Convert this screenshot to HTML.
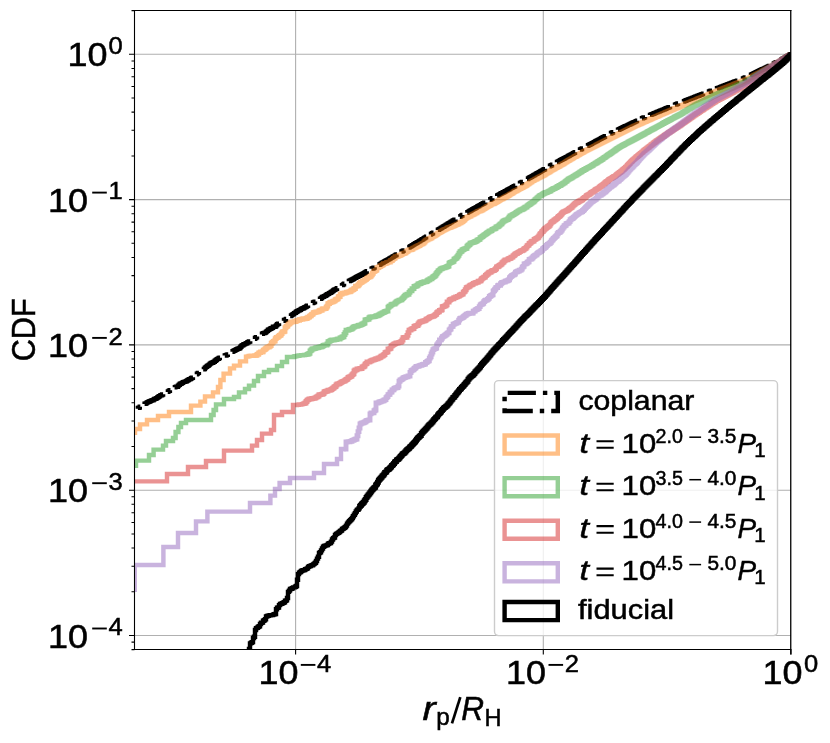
<!DOCTYPE html>
<html><head><meta charset="utf-8"><title>CDF</title>
<style>
html,body{margin:0;padding:0;background:#fff;}
body{width:830px;height:743px;overflow:hidden;position:relative;font-family:"Liberation Sans",sans-serif;}
svg{will-change:transform;}
svg text{font-family:"Liberation Sans",sans-serif;fill:#000;stroke:#000;stroke-width:0.5px;}
</style></head><body>
<svg width="830" height="743" viewBox="0 0 830 743" style="position:absolute;left:0;top:0;font-family:'Liberation Sans',sans-serif">
<defs><clipPath id="ax"><rect x="134.5" y="10.5" width="656.5" height="639.0"/></clipPath></defs>
<rect x="0" y="0" width="830" height="743" fill="#fff"/>
<path d="M295.6,10.5 V649.5 M543.3,10.5 V649.5 M134.5,635.5 H791.0 M134.5,490.2 H791.0 M134.5,344.9 H791.0 M134.5,199.6 H791.0 M134.5,54.3 H791.0" stroke="#b0b0b0" stroke-width="1.1" fill="none"/>
<g clip-path="url(#ax)" fill="none" stroke-linejoin="miter">
<path d="M134.5,410.2H135.4V409.4H136.2V408.9H137.1V408.8H137.9V407.9H138.8V407.6H139.8V406.8H140.7V405.9H141.7V405.5H142.7V404.9H143.7V404.2H144.6V403.7H145.6V403.4H146.6V402.6H147.5V402.1H148.5V401.7H149.5V401.3H150.5V400.9H151.4V400.4H152.4V400.3H153.4V399.6H154.3V398.9H155.3V398.7H156.3V398.1H157.2V397.5H158.2V396.8H159.2V396.1H160.2V395.4H161.1V395.2H162.1V394.5H163.1V394.1H164.0V393.2H165.0V392.8H166.0V392.7H167.0V391.9H167.9V391.4H168.9V390.7H169.9V390.2H170.9V389.5H171.9V388.5H172.9V387.9H173.9V387.3H174.9V387.1H175.9V386.8H176.9V386.7H177.9V385.6H178.9V384.7H179.9V383.8H180.9V383.5H181.9V382.9H182.9V382.1H183.9V381.9H184.9V381.6H185.9V381.2H186.9V380.5H187.9V380.0H188.9V379.3H189.9V379.1H190.9V378.2H191.9V377.7H192.9V376.7H193.9V375.9H194.9V374.6H195.9V374.3H196.9V373.6H197.9V372.9H198.9V371.8H199.9V371.2H200.9V370.6H201.9V369.9H202.9V369.2H203.9V369.0H204.9V367.6H205.9V366.9H206.9V366.0H207.9V365.5H208.9V364.6H209.9V363.6H210.9V363.0H211.9V362.7H212.8V362.2H213.8V361.7H214.8V360.7H215.8V360.0H216.8V359.1H217.8V358.8H218.8V358.0H219.8V357.8H220.8V357.1H221.8V356.9H222.8V356.4H223.8V356.3H224.8V355.5H225.8V355.2H226.8V354.8H227.8V354.5H228.7V354.2H229.7V352.7H230.7V352.2H231.7V351.7H232.6V351.2H233.6V350.8H234.6V350.2H235.6V349.7H236.5V349.3H237.5V348.7H238.5V348.5H239.5V348.0H240.4V346.8H241.4V345.6H242.4V345.2H243.3V344.5H244.3V344.1H245.3V343.6H246.3V343.2H247.2V342.5H248.2V342.0H249.2V341.5H250.2V341.2H251.1V340.8H252.1V340.1H253.1V339.4H254.1V338.9H255.0V338.0H256.0V337.2H257.0V336.5H258.0V336.3H259.0V335.7H260.0V335.2H261.0V334.6H262.0V333.8H263.0V333.1H264.0V333.0H265.0V332.6H266.0V331.6H267.0V330.9H268.0V329.7H269.0V329.4H270.0V328.8H271.0V328.3H272.0V327.9H273.0V326.8H274.0V326.7H275.0V326.5H276.0V325.4H277.0V324.2H278.0V323.7H279.0V323.1H280.0V322.7H281.0V321.8H282.0V321.1H283.0V320.7H284.0V320.0H285.0V319.6H286.0V319.0H287.0V318.6H288.0V317.9H289.0V317.0H290.0V316.0H291.0V315.4H292.0V314.6H293.0V314.1H294.0V313.1H295.0V312.8H296.0V311.8H297.0V311.2H298.0V310.6H299.0V310.3H300.0V309.7H301.0V308.9H302.0V308.5H303.0V308.2H304.0V307.5H305.0V307.1H306.0V306.5H307.0V305.8H308.0V305.2H309.0V304.4H310.0V304.0H311.0V303.5H312.0V303.1H313.0V302.5H314.0V302.0H315.0V301.6H316.0V301.0H317.0V300.5H318.0V299.8H319.0V299.2H320.0V298.7H321.0V298.0H322.0V297.0H323.0V296.7H324.0V296.1H325.0V295.8H326.0V295.0H327.0V294.3H328.0V293.9H329.0V293.1H330.0V292.7H331.0V292.0H332.0V291.4H333.0V290.5H334.0V289.8H335.0V289.4H336.0V288.9H337.0V288.3H338.0V287.6H339.0V287.1H340.0V286.3H341.0V285.8H342.0V285.1H343.0V284.4H344.0V283.8H345.0V283.3H346.0V282.6H346.9V282.0H347.9V281.5H348.9V281.0H349.9V280.5H350.9V280.0H351.9V279.5H352.9V279.0H353.9V278.4H354.8V277.9H355.8V277.3H356.8V276.8H357.8V276.2H358.8V275.8H359.8V275.2H360.8V274.8H361.8V274.2H362.7V273.7H363.7V273.2H364.7V272.5H365.7V271.9H366.7V271.2H367.7V270.6H368.7V270.2H369.7V269.7H370.6V269.2H371.6V268.6H372.6V268.2H373.6V267.6H374.6V267.0H375.6V266.5H376.6V265.8H377.6V265.3H378.6V264.7H379.6V264.2H380.6V263.6H381.6V263.0H382.6V262.5H383.6V261.9H384.6V261.3H385.6V260.7H386.6V260.1H387.6V259.6H388.6V259.1H389.5V258.5H390.5V257.9H391.5V257.4H392.5V256.7H393.5V256.1H394.5V255.6H395.5V255.0H396.5V254.4H397.5V253.8H398.5V253.3H399.5V252.7H400.5V252.1H401.5V251.5H402.5V250.9H403.5V250.4H404.5V249.8H405.5V249.2H406.4V248.6H407.4V248.0H408.4V247.5H409.4V246.9H410.4V246.3H411.4V245.7H412.3V245.1H413.3V244.5H414.3V243.9H415.3V243.3H416.3V242.7H417.3V242.1H418.2V241.6H419.2V241.0H420.2V240.4H421.2V239.8H422.2V239.2H423.2V238.6H424.1V238.0H425.1V237.4H426.1V236.8H427.1V236.2H428.1V235.7H429.1V235.1H430.0V234.5H431.0V233.9H432.0V233.3H433.0V232.7H434.0V232.1H434.9V231.5H435.9V230.9H436.9V230.3H437.9V229.7H438.9V229.1H439.8V228.6H440.8V228.0H441.8V227.4H442.8V226.8H443.8V226.2H444.7V225.6H445.7V225.0H446.7V224.4H447.7V223.8H448.7V223.2H449.6V222.6H450.6V222.0H451.6V221.4H452.6V220.8H453.6V220.2H454.5V219.7H455.5V219.1H456.5V218.5H457.5V217.9H458.5V217.3H459.4V216.7H460.4V216.1H461.4V215.5H462.4V214.9H463.4V214.4H464.4V213.8H465.4V213.3H466.4V212.7H467.4V212.1H468.4V211.6H469.4V211.0H470.4V210.5H471.4V209.9H472.4V209.3H473.4V208.8H474.4V208.2H475.4V207.7H476.4V207.1H477.3V206.5H478.3V206.0H479.3V205.4H480.3V204.9H481.3V204.3H482.3V203.7H483.3V203.2H484.3V202.6H485.3V202.1H486.3V201.5H487.3V200.9H488.3V200.4H489.3V199.8H490.3V199.3H491.3V198.7H492.3V198.2H493.3V197.6H494.3V197.1H495.3V196.5H496.2V196.0H497.2V195.5H498.2V194.9H499.2V194.4H500.2V193.8H501.2V193.3H502.2V192.7H503.2V192.2H504.2V191.7H505.2V191.1H506.1V190.6H507.1V190.0H508.1V189.5H509.1V189.0H510.1V188.4H511.1V187.9H512.1V187.3H513.1V186.8H514.1V186.2H515.1V185.7H516.0V185.2H517.0V184.6H518.0V184.1H519.0V183.5H520.0V183.0H521.0V182.4H522.0V181.9H523.0V181.3H524.0V180.7H525.0V180.1H526.0V179.6H527.0V179.0H528.0V178.4H529.0V177.8H530.0V177.3H531.0V176.7H532.0V176.1H533.0V175.5H534.0V175.0H535.0V174.4H536.0V173.8H537.0V173.2H538.0V172.7H539.0V172.1H540.0V171.5H541.0V170.9H542.0V170.4H543.0V169.8H544.0V169.2H545.0V168.6H546.0V168.1H547.0V167.5H548.0V166.9H549.0V166.3H550.0V165.8H551.0V165.2H552.0V164.7H553.0V164.1H554.0V163.6H555.0V163.0H556.0V162.5H557.0V162.0H558.0V161.4H559.0V160.9H560.0V160.3H561.0V159.8H562.0V159.3H563.0V158.7H564.0V158.2H565.0V157.6H566.0V157.1H567.0V156.6H568.0V156.0H569.0V155.5H570.0V154.9H571.0V154.4H572.0V153.9H573.0V153.3H574.0V152.8H575.0V152.2H576.0V151.7H577.0V151.2H578.0V150.6H579.0V150.1H580.0V149.5H581.0V149.0H582.0V148.5H583.0V147.9H584.0V147.4H585.0V146.9H586.0V146.3H587.0V145.8H588.0V145.3H589.0V144.7H590.0V144.2H591.0V143.7H592.0V143.1H593.0V142.6H594.0V142.1H595.0V141.5H596.0V141.0H597.0V140.5H598.0V139.9H599.0V139.4H600.0V138.9H601.0V138.3H602.0V137.8H603.0V137.3H604.0V136.7H605.0V136.2H606.0V135.7H607.0V135.1H608.0V134.6H609.0V134.1H610.0V133.5H611.0V133.0H612.0V132.5H613.0V132.1H614.0V131.6H615.0V131.1H616.0V130.6H617.0V130.2H618.0V129.7H619.0V129.2H620.0V128.7H621.0V128.2H622.0V127.8H623.0V127.3H624.0V126.8H625.0V126.3H626.0V125.9H627.0V125.4H628.0V124.9H629.0V124.5H630.0V124.0H631.0V123.5H632.0V123.0H633.0V122.5H634.0V122.1H635.0V121.6H636.0V121.1H637.0V120.7H638.0V120.2H639.0V119.7H640.0V119.2H641.0V118.8H642.0V118.3H643.0V117.8H644.0V117.4H645.0V117.0H646.0V116.6H647.0V116.2H648.0V115.7H649.0V115.3H650.0V114.9H651.0V114.5H652.0V114.1H653.0V113.7H654.0V113.3H655.0V112.9H656.0V112.4H657.0V112.0H658.0V111.6H659.0V111.2H660.0V110.8H661.0V110.4H662.0V110.0H663.0V109.6H664.0V109.2H665.0V108.7H666.0V108.3H667.0V107.9H668.0V107.5H669.0V107.1H670.0V106.7H671.0V106.3H672.0V105.9H673.0V105.4H674.0V105.0H675.0V104.6H676.0V104.2H677.0V103.8H678.0V103.4H679.0V103.0H680.0V102.6H681.0V102.2H682.0V101.9H683.0V101.5H684.0V101.1H685.0V100.7H686.0V100.3H687.0V99.9H688.0V99.5H689.0V99.1H690.0V98.8H691.0V98.4H692.0V98.0H693.0V97.6H694.0V97.2H695.0V96.8H696.0V96.4H697.0V96.0H698.0V95.7H699.0V95.3H700.0V94.9H701.0V94.5H702.0V94.1H703.0V93.7H704.0V93.3H705.0V92.9H706.0V92.6H707.0V92.2H708.0V91.8H709.0V91.4H710.0V91.0H711.0V90.6H712.0V90.2H713.0V89.9H714.0V89.5H715.0V89.1H716.0V88.7H717.0V88.3H718.0V87.9H719.0V87.6H720.0V87.2H721.0V86.8H722.0V86.4H723.0V86.0H724.0V85.6H725.0V85.3H726.0V84.9H727.0V84.5H728.0V84.1H729.0V83.7H730.0V83.4H731.0V83.0H732.0V82.6H733.0V82.2H734.0V81.8H735.0V81.4H736.0V81.1H737.0V80.7H738.0V80.3H739.0V79.9H740.0V79.5H741.0V79.1H742.0V78.8H743.0V78.4H744.0V78.0H745.0V77.5H746.0V77.0H747.0V76.6H748.0V76.1H749.0V75.6H750.0V75.1H751.0V74.6H752.0V74.2H753.0V73.7H754.0V73.2H755.0V72.7H756.0V72.2H757.0V71.8H758.0V71.3H759.0V70.8H760.0V70.3H761.0V69.8H762.0V69.3H763.0V68.9H764.0V68.4H765.0V67.9H766.0V67.4H767.0V66.9H768.0V66.5H769.0V66.0H770.0V65.5H771.0V65.0H772.0V64.4H772.9V63.9H773.9V63.4H774.9V62.9H775.9V62.3H776.8V61.8H777.8V61.3H778.8V60.7H779.8V60.2H780.7V59.7H781.7V59.2H782.7V58.6H783.7V58.1H784.6V57.6H785.6V57.0H786.6V56.5H787.6V56.0H788.5V55.5H789.5V54.9H790.5V54.4" stroke="#000" stroke-width="4.44" stroke-dasharray="28.28 7.02 4.41 7.02" stroke-dashoffset="30.5"/>
<g opacity="0.5" stroke="#ff7f0e"><path d="M135.0,435.0V429.0H140.0V424.4H147.0V420.0H158.0V416.0H169.0V412.0H191.0V405.6H200.4V401.6H205.0V396.4H213.0V392.4H218.0V387.0H220.4V380.0H223.6V373.6H230.0V368.4H234.0V365.6H240.0V361.4H246.0V356.6H246.9V356.6H247.8V356.4H248.8V356.0H249.7V355.9H250.6V355.8H251.5H252.4V355.7H253.3H254.3V355.5H255.2V355.5H256.1V355.4" stroke-width="4.44"/><path d="M256.1,355.4H257.0V354.4H257.8V354.3H258.7V352.9H259.6V352.6H260.5V352.0H261.3H262.2V351.8H263.2V350.1H264.2V349.6H265.2V348.7H266.2V347.9H267.2V347.1H268.2V347.0H269.2V346.4H270.2V345.6H271.2V343.3H272.2V342.4H273.2V341.4H274.2V341.0H275.2V338.6H276.2V337.5H277.2V337.4H278.2V336.4H279.2V335.5H280.2V335.0H281.2V333.6H282.1V331.9H283.1V331.8H284.0V331.4H285.0V327.7H286.0V326.5H287.0V326.0H287.9V324.4H288.9V323.7H289.9V322.9H290.9V322.1H291.8V321.9H292.8H293.8V321.6H294.7V321.5H295.7V321.1H296.7V320.5H297.6V320.4H298.6V320.3H299.5V319.5H300.5V319.4H301.4V319.3H302.4V319.0H303.3V318.7H304.3V318.7H305.2V318.6H306.0V318.5H306.9V318.0H307.8V317.3H308.7V317.1H309.5V316.1H310.4V315.7H311.3V314.6H312.2V314.1H313.2V312.8H314.1V312.5H315.1V312.3H316.1V312.0H317.1V311.9H318.1V311.6H319.1V310.8H320.1V310.3H321.1V310.2H322.1V309.0H323.1V308.7H324.1V308.6H325.1V308.6H326.1V307.2H327.0V306.1H327.8V303.7H328.7V303.5H329.6V302.6H330.5V302.3H331.3V302.1H332.2V301.8H333.2V301.2H334.2V300.9H335.2V299.8H336.2V299.2H337.2V298.9H338.2V296.7H339.2V296.5H340.2V294.2H341.2V294.0H342.2V293.3H343.2V293.2H344.2V293.0H345.2V292.9H346.2V292.3H347.2V292.1H348.2V291.9H349.2V291.7H350.2V291.2H351.1V290.2H351.9V290.0H352.8V289.6H353.7V288.7H354.6V288.5H355.4V286.3H356.3V286.1H357.3V285.8H358.3V284.7H359.3V283.3H360.3V282.5H361.3V282.1H362.3V281.3H363.3V280.9H364.3V280.1H365.3V279.6H366.3V278.5H367.3V277.6H368.3V277.1H369.3V276.8H370.3V276.0H371.3V274.9H372.3V273.3H373.3V271.6H374.3V271.1H375.2V270.5H376.0V270.1H376.9V267.8H377.8V267.5H378.7V266.9H379.5V266.6H380.4V265.7H381.4V265.4H382.4V264.7H383.4V263.7H384.4V263.6H385.4V263.4H386.4V262.8H387.4V262.4H388.4V262.1H389.3V262.0H390.3V260.8H391.3V260.5H392.3V259.4H393.3V258.5H394.2V258.0H395.2V256.8H396.2V256.6H397.2V256.4H398.2V255.7H399.1V255.5H400.1V255.1H401.1V254.6H402.1V253.9H403.1V253.5H404.0V253.2H405.0V252.9H406.0V251.7H407.0V251.2H408.0V250.3H409.0V249.9H410.0V249.7H411.0V249.5H412.0V249.0H413.0V248.1H414.0V247.9H415.0V247.3H416.0V246.8H417.0V246.3H418.0V245.8H419.0V245.5H420.0V244.6H421.0V244.1H422.0V243.7H423.0V243.1H424.0V242.0H425.0V240.9H426.0V240.1H427.0V239.8H428.0V239.1H429.0V238.7H430.0V238.3H431.0V237.8H432.0V236.7H433.0V236.3H434.0V235.7H435.0V235.2H436.0V234.6H437.0V233.8H438.0V233.0H439.0V232.6H440.0V232.0H441.0V231.5H442.0V230.7H443.0V230.2H444.0V229.8H445.0V229.4H446.0V228.9H447.0V228.3H448.0V227.7H449.0V227.5H450.0V227.3H451.0V226.8H452.0V226.4H453.0V226.1H454.0V225.5H455.0V225.1H456.0V224.6H457.0V224.3H458.0V223.9H459.0V223.0H460.0V222.8H461.0V222.1H462.0V221.6H463.0V220.6H464.0V219.9H465.0V218.6H466.0V217.9H467.0V217.2H468.0V216.9H469.0V216.4H470.0V216.0H471.0V215.1H472.0V214.8H473.0V214.2H474.0V213.8H475.0V213.1H476.0V212.7H477.0V211.9H478.0V211.4H479.0V211.1H480.0V210.8H481.0V210.3H482.0V209.9H483.0V209.1H484.0V208.5H485.0V207.9H486.0V207.3H487.0V206.5H488.0V206.1H489.0V205.5H490.0V205.0H491.0V204.3H492.0V203.9H493.0V203.7H494.0V203.4H495.0V202.5H496.0V202.1H497.0V201.5H498.0V200.8H499.0V200.2H500.0V199.6H501.0V199.0H502.0V198.7H503.0V198.1H504.0V197.5H505.0V197.0H506.0V196.5H507.0V196.0H508.0V195.5H509.0V194.8H510.0V194.1H511.0V193.6H512.0V193.1H513.0V192.3H514.0V191.5H515.0V191.0H516.0V190.7H517.0V190.1H518.0V189.5H519.0V188.9H520.0V188.6H521.0V187.9H522.0V187.5H523.0V186.7H524.0V186.2H525.0V185.7H526.0V185.2H527.0V184.4H528.0V183.8H529.0V183.1H530.0V182.3H531.0V181.7H532.0V180.9H533.0V180.5H534.0V179.9H535.0V179.3H536.0V179.0H537.0V178.3H538.0V177.8H539.0V177.3H540.0V176.7H541.0V176.2H542.0V175.7H543.0V175.3H544.0V174.7H545.0V174.0H546.0V173.4H547.0V172.7H548.0V172.2H549.0V171.7H550.0V171.0H551.0V170.4H552.0V169.7H553.0V169.2H554.0V168.7H555.0V168.1H556.0V167.6H557.0V167.0H558.0V166.5H559.0V166.0H560.0V165.3H561.0V164.8H562.0V164.2H563.0V163.7H564.0V163.1H565.0V162.4H566.0V161.8H567.0V161.1H568.0V160.5H569.0V160.0H570.0V159.4H571.0V158.8H572.0V158.2H573.0V157.6H574.0V156.9H575.0V156.5H576.0V156.0H577.0V155.3H578.0V154.8H579.0V154.2H580.0V153.6H581.0V153.0H582.0V152.5H583.0V152.0H584.0V151.4H585.0V150.9H586.0V150.4H587.0V149.9H588.0V149.4H589.0V148.9H590.0V148.4H591.0V147.9H592.0V147.4H593.0V146.9H594.0V146.4H595.0V145.9H596.0V145.3H597.0V144.8H598.0V144.3H599.0V143.8H600.0V143.3H601.0V142.8H602.0V142.3H603.0V141.8H604.0V141.3H605.0V140.8H606.0V140.3H607.0V139.8H608.0V139.3H609.0V138.8H610.0V138.3H611.0V137.8H612.0V137.3H613.0V136.8H614.0V136.3H615.0V135.8H616.0V135.3H617.0V134.8H618.0V134.3H619.0V133.8H620.0V133.2H621.0V132.7H622.0V132.2H623.0V131.7H624.0V131.2H625.0V130.7H626.0V130.2H627.0V129.7H628.0V129.2H629.0V128.7H630.0V128.2H631.0V127.7H632.0V127.2H633.0V126.8H634.0V126.3H635.0V125.9H636.0V125.4H637.0V125.0H638.0V124.5H639.0V124.1H640.0V123.7H641.0V123.2H642.0V122.8H643.0V122.3H644.0V121.9H645.0V121.5H646.0V121.0H647.0V120.6H648.0V120.1H649.0V119.7H650.0V119.2H651.0V118.8H652.0V118.4H653.0V117.9H654.0V117.5H655.0V117.0H656.0V116.6H657.0V116.2H658.0V115.7H659.0V115.3H660.0V114.9H661.0V114.4H662.0V114.0H663.0V113.6H664.0V113.1H665.0V112.7H666.0V112.3H667.0V111.9H668.0V111.4H669.0V111.0H670.0V110.6H671.0V110.1H672.0V109.7H673.0V109.3H674.0V108.8H675.0V108.4H676.0V108.0H677.0V107.6H678.0V107.2H679.0V106.7H680.0V106.3H681.0V105.9H682.0V105.5H683.0V105.1H684.0V104.7H685.0V104.2H686.0V103.8H687.0V103.4H688.0V103.0H689.0V102.6H690.0V102.2H691.0V101.7H692.0V101.3H693.0V100.9H694.0V100.5H695.0V100.1H696.0V99.7H697.0V99.3H698.0V98.8H699.0V98.4H700.0V98.0H701.0V97.6H702.0V97.2H703.0V96.8H704.0V96.4H705.0V96.0H706.0V95.5H707.0V95.1H708.0V94.7H709.0V94.3H710.0V93.9H711.0V93.5H712.0V93.1H713.0V92.6H714.0V92.2H715.0V91.8H716.0V91.4H717.0V91.0H718.0V90.6H719.0V90.2H720.0V89.8H721.0V89.4H722.0V89.0H723.0V88.6H724.0V88.3H725.0V87.9H726.0V87.5H727.0V87.1H728.0V86.7H729.0V86.3H730.0V85.9H731.0V85.5H732.0V85.1H733.0V84.7H734.0V84.3H735.0V83.9H736.0V83.5H737.0V83.1H738.0V82.7H739.0V82.4H740.0V82.0H741.0V81.6H742.0V81.2H743.0V80.8H744.0V80.4H745.0V80.0H746.0V79.6H747.0V79.1H748.0V78.6H749.0V78.1H750.0V77.6H751.0V77.1H752.0V76.5H753.0V76.0H754.0V75.5H755.0V75.0H756.0V74.5H757.0V74.0H758.0V73.5H759.0V72.9H760.0V72.4H761.0V71.9H762.0V71.3H763.0V70.8H764.0V70.3H765.0V69.7H766.0V69.2H767.0V68.7H768.0V68.1H769.0V67.6H770.0V67.0H771.0V66.4H772.0V65.8H773.0V65.2H774.0V64.6H775.0V64.0H776.0V63.4H777.0V62.8H778.0V62.2H779.0V61.6H780.0V61.0H781.0V60.4H782.0V59.8H783.0V59.2H783.9V58.6H784.9V58.0H785.8V57.4H786.8V56.8H787.7V56.2H788.6V55.6H789.6V55.0H790.5V54.4" stroke-width="4.9" stroke-linecap="square"/></g>
<g opacity="0.5" stroke="#2ca02c"><path d="M136.0,468.0V460.6H149.0V455.0H153.6V449.6H163.0V445.6H166.0V441.0H173.0V438.0H175.6V432.0H178.4V427.0H181.0V423.0H186.0V420.0H211.0V415.0H213.6V410.0H216.0V404.4H224.0V399.0H234.0V397.0H239.0V392.4H245.0V389.0H249.0V385.6H254.0V381.0H258.0V376.0H264.0V372.0H269.0V370.0H277.0V366.0H282.0V362.0H287.0V357.0H293.0H294.0V356.5H295.0V356.3H296.0V356.1H297.0V355.9H298.0V355.8H299.0V355.5H300.0V355.4H301.0V355.3H302.0V355.2H303.0V355.1H304.0V355.0H305.0V354.9H306.0V354.6H307.0V354.3H308.0V354.0" stroke-width="4.44"/><path d="M308.0,354.0H309.0V353.4H310.0V350.9H311.0V350.0H312.0V349.0H313.0V348.8H314.0V348.6H315.0V348.3H316.0V347.8H317.0V347.7H318.0V347.5H319.0V347.1H320.0V347.0H321.0V346.7H322.0V346.4H323.0V345.5H324.0V345.1H325.0V345.0H326.0V345.0H327.0V344.0H328.0V341.6H329.0V341.4H330.0V340.6H331.0V340.2H332.0V340.0H333.0H334.0V339.9H335.0V339.6H336.0H337.0V339.1H338.0V339.0H339.0H340.0V338.0H341.0V337.6H342.0V337.0H343.0V336.7H344.0V334.5H345.0V332.7H346.0V330.3H347.0V330.3H348.0V330.0H349.0V329.5H350.0V329.3H351.0V329.1H352.0V328.3H353.0V327.2H354.0V326.7H355.0V326.4H356.0V326.3H357.0V326.1H358.0V325.5H359.0V325.2H360.0V325.1H361.0V324.6H362.0V324.0H363.0V323.6H364.0V323.0H365.0V319.9H366.0V319.8H367.0V319.4H368.0V319.3H369.0V317.7H370.0V317.0H371.0H372.0V316.8H373.0H374.0V316.6H375.0V316.4H376.0V315.7H377.0H378.0V315.2H379.0V314.7H380.0V314.0H381.0V313.6H382.0V312.9H383.0V312.6H384.0V312.0H385.0V311.5H386.0V311.1H387.0V311.0H388.0V307.2H389.0V306.2H390.0V305.9H391.0V304.7H392.0V304.2H393.0V304.1H394.0V304.0H395.0V303.0H396.0V302.0H397.0V301.3H398.0V300.9H399.0V300.3H400.0V300.1H401.0V299.7H402.0V298.6H403.0V297.6H404.0V296.4H405.0V295.2H406.0V295.0H407.0V294.3H408.0H409.0V292.4H410.0V290.9H411.0V290.8H412.0V288.8H413.0V288.6H414.0V286.5H415.0V286.2H416.0V286.0H417.0V285.2H418.0V284.0H419.0V283.8H420.0V283.5H421.0V282.8H422.0V282.5H423.0V282.2H424.0V281.8H425.0V281.7H426.0V281.6H427.0V280.7H428.0V280.0H429.0V279.7H430.0V278.8H431.0V278.7H432.0V277.6H433.0V276.8H434.0V276.2H435.0V275.3H436.0V273.8H437.0V272.4H438.0V271.0H439.0V270.4H440.0V269.1H441.0V268.8H442.0V268.3H443.0V267.9H444.0V267.8H445.0V267.4H446.0V267.0H447.0V266.5H448.0V266.0H449.0V263.2H450.0V262.5H451.0V262.2H452.0V261.8H453.0V261.2H454.0V259.3H455.0V258.6H456.0V258.0H457.0V256.8H458.0V255.3H459.0V253.2H460.0V251.7H461.0V251.2H462.0V250.0H463.0V249.5H464.0V248.9H465.0V248.6H466.0V248.2H467.0V246.3H468.0V245.2H469.0V244.6H470.0V243.3H471.0V242.9H472.0V242.6H473.0V242.4H474.0V242.0H475.0V241.5H476.0V241.1H477.0V240.2H478.0V239.6H479.0V239.4H480.0V237.8H481.0V237.1H482.0V236.5H483.0V235.6H484.0V234.9H485.0V234.4H486.0V233.5H487.0V232.8H488.0V232.1H489.0V231.3H490.0V231.0H491.0V230.6H492.0V229.4H493.0V229.1H494.0V228.7H495.0V228.2H496.0V227.0H497.0V226.7H498.0V226.2H499.0V225.2H500.0V224.3H501.0V223.8H502.0V222.3H503.0V221.2H504.0V220.7H505.0V220.3H506.0V219.9H507.0V219.6H508.0V218.8H509.0V217.2H510.0V216.0H511.0V215.7H512.0V215.0H513.0V214.5H514.0V213.9H515.0V213.4H516.0V212.5H517.0V211.9H518.0V211.1H519.0V210.7H520.0V209.9H521.0V209.7H522.0V209.3H523.0V208.7H524.0V208.0H525.0V207.2H526.0V207.0H527.0V205.9H528.0V205.1H529.0V204.5H530.0V203.7H531.0V203.1H532.0V202.4H533.0V201.9H534.0V200.9H535.0V199.6H536.0V198.9H537.0V198.0H538.0V197.1H539.0V196.1H540.0V195.5H541.0V195.1H542.0V194.4H543.0V193.8H544.0V193.3H545.0V192.8H546.0V192.5H547.0V192.1H548.0V191.6H549.0V191.2H550.0V190.7H551.0V189.9H552.0V189.5H552.9V188.8H553.9V188.5H554.8V188.1H555.7V187.6H556.7V187.0H557.6V186.5H558.5V185.9H559.4V185.5H560.4V185.0H561.3V184.4H562.2V183.8H563.2V183.1H564.1V182.7H565.1V181.6H566.1V181.0H567.1V180.1H568.1V179.3H569.1V178.7H570.1V178.3H571.1V177.8H572.1V177.1H573.1V176.4H574.1V175.9H575.1V175.2H576.1V174.7H577.0V174.1H578.0V173.5H578.9V172.9H579.8V172.3H580.8V171.7H581.7V171.0H582.6V170.5H583.5V170.0H584.5V169.5H585.4V169.0H586.3V168.4H587.3V167.9H588.2V167.5H589.2V166.9H590.2V166.4H591.2V165.8H592.2V165.2H593.2V164.4H594.2V163.9H595.2V163.3H596.2V162.7H597.2V162.0H598.2V161.4H599.2V160.8H600.2V160.2H601.2V159.5H602.2V159.0H603.1V158.1H604.1V157.5H605.1V156.9H606.1V156.1H607.1V155.4H608.0V154.8H609.0V154.2H610.0V153.5H611.0V152.8H612.0V152.1H613.0V151.4H614.0V150.7H615.0V150.0H616.0V149.3H617.0V148.5H618.0V147.9H619.0V147.2H620.0V146.6H621.0V146.1H622.0V145.5H623.0V145.0H624.0V144.5H625.0V143.9H626.0V143.4H627.0V142.9H628.0V142.3H629.0V141.8H630.0V141.3H631.0V140.7H632.0V140.2H632.9V139.7H633.9V139.2H634.8V138.7H635.7V138.2H636.7V137.7H637.6V137.2H638.5V136.7H639.4V136.2H640.4V135.7H641.3V135.2H642.2V134.7H643.2V134.2H644.1V133.7H645.1V133.1H646.1V132.6H647.1V132.0H648.1V131.5H649.1V130.9H650.1V130.4H651.1V129.8H652.1V129.3H653.1V128.8H654.1V128.2H655.1V127.6H656.1V127.1H657.0V126.6H658.0V126.1H658.9V125.6H659.8V125.1H660.8V124.6H661.7V124.1H662.6V123.5H663.5V123.0H664.5V122.5H665.4V122.0H666.3V121.5H667.3V121.0H668.2V120.5H669.2V120.0H670.2V119.5H671.2V118.9H672.2V118.4H673.2V117.9H674.2V117.3H675.2V116.8H676.2V116.3H677.2V115.8H678.2V115.2H679.2V114.7H680.2V114.2H681.2V113.6H682.2V113.0H683.1V112.4H684.1V111.8H685.1V111.2H686.1V110.6H687.0V110.0H688.0V109.4H689.0V108.8H690.0V108.2H691.0V107.6H691.9V107.0H692.9V106.4H693.9V105.8H694.8V105.3H695.8V104.8H696.7V104.3H697.7V103.8H698.6V103.3H699.6V102.9H700.5V102.4H701.5V101.9H702.4V101.4H703.4V100.9H704.3V100.4H705.2V99.9H706.2V99.5H707.1V99.0H708.1V98.5H709.0V98.0H710.0V97.6H710.9V97.1H711.8V96.6H712.8V96.1H713.7V95.7H714.7V95.2H715.6V94.7H716.6V94.3H717.5V93.9H718.5V93.5H719.4V93.1H720.4V92.7H721.4V92.3H722.3V91.9H723.3V91.4H724.2V91.0H725.2V90.6H726.2V90.2H727.1V89.8H728.1V89.4H729.0V89.0H730.0V88.6H731.0V88.2H732.0V87.7H733.0V87.3H734.0V86.8H735.0V86.4H736.0V85.9H737.0V85.5H738.0V85.0H739.0V84.6H740.0V84.2H741.0V83.7H742.0V83.3H743.0V82.8H744.0V82.4H745.0V81.9H746.0V81.5H747.0V80.9H748.0V80.4H749.0V79.8H750.0V79.2H751.0V78.6H752.0V78.1H753.0V77.5H754.0V76.9H755.0V76.3H756.0V75.8H757.0V75.2H758.0V74.6H759.0V74.1H760.0V73.5H761.0V72.9H762.0V72.4H763.0V71.8H764.0V71.2H765.0V70.7H766.0V70.1H767.0V69.5H768.0V69.0H769.0V68.4H770.0V67.8H771.0V67.1H772.0V66.5H773.0V65.8H774.0V65.2H775.0V64.5H776.0V63.9H777.0V63.2H778.0V62.5H779.0V61.9H780.0V61.2H781.0V60.6H782.0V59.9H783.0V59.3H783.9V58.7H784.9V58.1H785.8V57.5H786.8V56.8H787.7V56.2H788.6V55.6H789.6V55.0H790.5V54.4" stroke-width="4.9" stroke-linecap="square"/></g>
<g opacity="0.5" stroke="#d62728"><path d="M135.0,481.4H167.0V474.0H188.0V467.0H206.0V461.0H224.0V450.6H252.0V445.6H257.0V440.0H262.0V433.6H271.0V430.0H274.0V415.0H282.0V412.0H293.0V405.0H296.0H297.0V404.9H298.0V404.8H299.0V404.5H300.0H301.0V404.4H302.0V404.1H303.0V403.7H304.0V403.5H305.0V403.0" stroke-width="4.44"/><path d="M305.0,403.0H306.0V401.5H307.0V400.1H308.0V399.6H309.0V399.0H310.0H311.0V398.7H312.0V398.5H313.0V398.4H314.0V398.2H315.0V397.9H316.0V397.1H317.0V396.8H318.0V396.0H319.0V394.7H320.0V394.6H321.0V394.4H322.0V394.3H323.0V393.6H324.0V392.0H325.0V391.5H326.0V391.2H327.0V391.0H328.0V390.3H329.0V390.2H330.0V390.0H331.0V389.5H332.0V388.6H333.0V388.0H334.0V387.0H335.0V386.5H336.0V385.0H337.0V384.0H338.0H339.0V383.5H340.0V382.9H341.0V382.2H342.0V381.6H343.0V381.4H344.0V381.0H345.0V380.3H346.0V379.5H347.0V379.0H348.0V377.5H349.0V377.0H350.0V376.6H351.0V376.0H352.0V374.6H353.0V373.7H354.0V371.0H355.0V370.0H356.0V369.9H357.0V369.0H358.0V368.9H359.0V368.7H360.0V368.5H361.0H362.0V367.0H363.0V366.7H364.0V366.0H365.0V364.1H366.0V363.5H367.0V362.0H368.0H369.0V361.9H370.0V361.1H371.0V360.8H372.0V360.1H373.0V360.0H374.0V359.6H375.0V359.3H376.0V358.8H377.0V358.7H378.0V358.0H379.0V357.9H380.0V357.3H381.0V356.2H382.0V356.0H383.0V355.3H384.0V354.5H385.0V352.6H386.0V352.2H387.0V351.9H388.0V349.0H389.0V348.9H390.0V348.4H391.0V346.0H392.0V345.4H393.0V344.6H394.0V344.0H395.0V343.6H396.0V343.0H397.0V343.0H398.0V342.6H399.0V342.4H400.0V342.3H401.0V341.5H402.0V340.0H403.0V337.6H404.0V337.5H405.0V337.4H406.0V337.2H407.0V335.4H408.0V332.6H409.0V330.1H410.0V330.0H411.0V329.1H412.0V328.8H413.0V328.5H414.0V326.5H415.0V326.0H416.0V325.6H417.0V325.5H418.0V324.0H419.0V322.6H420.0V321.8H421.0V321.7H422.0V321.2H423.0V321.0H424.0V320.8H425.0V320.4H426.0V319.2H427.0V318.9H428.0V318.4H429.0V317.5H430.0V316.9H431.0V316.7H432.0V316.4H432.9V316.2H433.9V315.6H434.8V314.9H435.7V314.2H436.7V312.6H437.6V312.0H438.5V311.7H439.4V310.4H440.4V310.2H441.3V309.9H442.2V306.8H443.2V306.5H444.1V306.1H445.1V305.8H446.1V304.8H447.1V302.0H448.1H449.1V300.2H450.1V299.5H451.0V299.1H452.0V298.9H452.9V298.8H453.8V297.8H454.8V297.6H455.7V297.0H456.6V296.9H457.5V296.4H458.5V296.1H459.4V295.3H460.3V294.8H461.3V294.2H462.2V294.1H463.2V292.1H464.2V291.4H465.2V289.7H466.2V287.8H467.2V287.1H468.2V286.9H469.2V286.0H470.2V285.1H471.2V284.9H472.2V284.4H473.2V283.4H474.2V283.2H475.2V282.7H476.2V282.4H477.2V282.3H478.2V281.3H479.2V281.1H480.2V280.8H481.1V279.2H481.9V278.4H482.8V277.9H483.7V277.3H484.6V277.0H485.4V275.5H486.3V274.8H487.2V274.0H488.2V273.0H489.1V272.3H490.0H491.0V271.4H491.9V270.8H492.8V270.5H493.8V270.4H494.7V269.6H495.6V268.7H496.5V266.9H497.4V266.7H498.2V266.3H499.1V265.4H500.0V264.9H501.0V264.1H502.0V262.8H503.0V262.0H504.0V260.9H505.0V260.0H506.0V259.9H507.0V259.7H508.0V258.9H509.0V258.5H510.0V258.2H511.0V257.3H512.0V257.1H512.9V255.9H513.9V255.3H514.8V254.3H515.7V253.6H516.7V253.2H517.6V252.6H518.5V252.3H519.4V251.6H520.4V250.9H521.3V250.8H522.2V250.4H523.2V249.7H524.1V248.7H525.1V248.4H526.1V247.1H527.1V245.6H528.1V245.1H529.1V243.5H530.1V242.9H531.1V241.7H532.1V241.3H533.1V241.1H534.1V239.5H535.1V239.0H536.1V238.4H537.0V238.0H537.9V237.3H538.8V235.9H539.8V234.2H540.7V233.4H541.6V231.9H542.5V231.3H543.4V230.0H544.4V229.0H545.3V228.3H546.3V227.6H547.2V226.7H548.2V226.2H549.1V225.4H550.1V223.9H551.0V222.4H552.0V221.8H552.9V221.3H553.9V220.2H554.8V219.7H555.7V219.0H556.7V218.4H557.6V217.2H558.5V216.5H559.4V215.8H560.4V214.9H561.3V213.7H562.2V212.6H563.2V211.9H564.1V211.6H565.1V211.1H566.1V210.8H567.1V210.3H568.1V209.5H569.1V208.5H570.1V207.9H571.1V207.2H572.1V206.1H573.1V205.1H574.1V204.3H575.1V203.4H576.1V202.8H577.0V202.5H578.0V201.8H578.9V201.2H579.8V200.8H580.8V200.3H581.7V199.9H582.6V198.9H583.5V198.1H584.5V197.5H585.4V196.9H586.3V195.8H587.3V195.1H588.2V194.7H589.2V194.1H590.2V193.2H591.2V192.4H592.2V192.0H593.2V191.4H594.2V190.8H595.2V189.8H596.2V189.3H597.2V188.6H598.2V188.1H599.2V187.2H600.2V186.5H601.1V185.8H602.1V185.1H603.0V184.4H603.9V183.8H604.9V182.7H605.8V182.0H606.7V181.5H607.6V180.7H608.6V179.8H609.5V179.1H610.4V178.6H611.4V178.1H612.3V177.5H613.3V176.8H614.3V176.4H615.3V175.6H616.3V174.6H617.3V174.0H618.3V173.2H619.3V172.5H620.3V171.8H621.3V171.0H622.3V170.0H623.3V169.3H624.3V168.4H625.3V167.4H626.2V166.6H627.2V165.5H628.1V164.5H629.1V163.5H630.1V162.4H631.0V161.5H632.0V160.5H632.9V159.6H633.9V158.9H634.8V158.1H635.7V157.3H636.7V156.5H637.6V155.8H638.5V155.0H639.4V154.2H640.4V153.4H641.3V152.6H642.2V151.9H643.2V150.9H644.1V150.2H645.1V149.4H646.1V148.7H647.1V147.9H648.1V147.2H649.1V146.4H650.1V145.6H651.1V144.8H652.1V144.1H653.1V143.3H654.1V142.5H655.1V141.8H656.1V141.0H657.0V140.4H658.0V139.7H658.9V139.1H659.8V138.5H660.8V137.8H661.7V137.2H662.6V136.6H663.5V136.0H664.5V135.3H665.4V134.7H666.3V134.1H667.3V133.4H668.2V132.8H669.2V132.2H670.2V131.5H671.2V130.9H672.2V130.2H673.2V129.6H674.2V128.9H675.2V128.2H676.2V127.6H677.2V127.0H678.2V126.3H679.2V125.7H680.2V125.0H681.2V124.3H682.2V123.6H683.1V122.9H684.1V122.3H685.1V121.6H686.1V120.9H687.0V120.2H688.0V119.5H689.0V118.8H690.0V118.1H691.0V117.5H691.9V116.8H692.9V116.1H693.9V115.4H694.8V114.8H695.8V114.1H696.7V113.5H697.7V112.9H698.6V112.2H699.6V111.6H700.5V110.9H701.5V110.3H702.4V109.7H703.4V109.0H704.3V108.4H705.2V107.8H706.2V107.2H707.1V106.6H708.1V106.0H709.0V105.4H710.0V104.8H710.9V104.1H711.8V103.5H712.8V102.9H713.7V102.3H714.7V101.7H715.6V101.1H716.6V100.6H717.5V100.1H718.5V99.6H719.4V99.1H720.4V98.6H721.4V98.1H722.3V97.6H723.3V97.1H724.2V96.6H725.2V96.1H726.2V95.6H727.1V95.1H728.1V94.6H729.0V94.1H730.0V93.6H731.0V93.1H732.0V92.5H733.0V92.0H734.0V91.4H735.0V90.9H736.0V90.4H737.0V89.8H738.0V89.3H739.0V88.8H740.0V88.2H741.0V87.7H742.0V87.2H743.0V86.6H744.0V86.1H745.0V85.5H746.0V85.0H747.0V84.3H748.0V83.5H749.0V82.8H750.0V82.1H751.0V81.4H752.0V80.6H753.0V79.9H754.0V79.2H755.0V78.5H756.0V77.7H757.0V77.0H758.0V76.3H759.0V75.7H760.0V75.0H761.0V74.3H762.0V73.6H763.0V73.0H764.0V72.3H765.0V71.6H766.0V70.9H767.0V70.2H768.0V69.6H769.0V68.9H770.0V68.2H771.0V67.5H772.0V66.8H773.0V66.2H774.0V65.5H775.0V64.8H776.0V64.1H777.0V63.4H778.0V62.7H779.0V62.0H780.0V61.4H781.0V60.7H782.0V60.0H783.0V59.3H783.9V58.7H784.9V58.1H785.8V57.5H786.8V56.8H787.7V56.2H788.6V55.6H789.6V55.0H790.5V54.4" stroke-width="4.9" stroke-linecap="square"/></g>
<g opacity="0.5" stroke="#9467bd"><path d="M134.8,592.0V565.0H163.4V547.0H178.0V533.0H196.0V521.4H207.4V511.6H250.0V503.0H270.4V495.6H275.0V489.0H279.6V483.0H290.0V478.0H314.0V473.0H324.0V464.0H337.0V459.0H341.0V449.0H346.0" stroke-width="4.44"/><path d="M346.0,449.0V442.0H347.0V441.9H348.0V441.7H349.0H350.0V441.4H351.0V441.3H352.0V440.4H353.0V440.2H354.0V439.6H355.0V439.3H356.0V439.0H357.0V435.8H358.0V431.6H359.0V428.0H360.0V424.0H361.0V423.2H362.0V423.0H363.0V422.7H364.0V422.2H365.0V421.7H366.0V420.8H367.0V420.4H368.0V420.1H369.0V420.0H370.0V413.9H371.0V413.0H372.0V412.9H373.0H374.0V410.8H375.0V410.0H376.0V403.0H377.0H378.0V402.6H379.0V402.0H380.0V401.7H381.0V401.4H382.0V401.1H383.0V400.8H384.0V400.0H385.0V399.6H386.0V397.6H387.0V396.6H388.0V394.6H389.0V394.3H390.0V392.3H391.0V392.0H392.0V390.0H393.0V389.8H394.0V388.4H395.0V387.9H396.0V387.8H397.0V387.5H398.0V386.0H399.0V381.2H400.0V380.0H401.0V379.6H402.0V378.9H403.0V378.0H404.0V377.5H405.0V377.2H406.0V376.8H407.0V376.8H408.0V376.0H409.0H410.0V372.5H411.0V370.7H412.0V370.1H413.0V369.8H414.0V368.5H415.0V367.7H416.0V366.5H416.9V366.4H417.9V366.3H418.8V365.9H419.8V365.4H420.7V365.2H421.7V364.9H422.6V364.5H423.6V364.3H424.5V364.1H425.5V362.5H426.4V362.0H427.4V361.2H428.3V360.7H429.3V358.1H430.2V356.8H431.1V354.0H432.0V352.0H432.9V349.6H433.9V348.9H434.8V348.6H435.8V348.1H436.7V344.9H437.7V343.6H438.6V342.4H439.5V340.0H440.4V339.9H441.4V338.2H442.3V336.8H443.2V336.4H444.1V335.7H445.1V335.0H446.1V334.2H447.1V333.1H448.1V332.7H449.1V329.9H450.1V329.0H451.1V326.6H452.1V326.4H453.1V324.2H454.1V323.9H455.1V323.4H456.1V323.0H457.0V322.4H457.8V322.2H458.7V320.1H459.6V318.8H460.5V318.3H461.3V318.1H462.2V317.6H463.2V316.7H464.2V315.9H465.2V315.3H466.2V314.3H467.2V313.9H468.2V313.5H469.2V313.2H470.2H471.2H472.2V313.1H473.2V311.2H474.2V311.0H475.2V309.9H476.2V309.5H477.2V308.7H478.2V308.5H479.2V306.6H480.2V304.9H481.1V304.2H481.9V304.0H482.8V303.3H483.7V301.6H484.6V300.8H485.4V300.2H486.3V300.1H487.3V299.4H488.3V298.4H489.3V296.5H490.3V295.8H491.3V295.1H492.3V294.7H493.1V291.2H493.9V290.5H494.7V289.3H495.7V287.8H496.6V287.5H497.6V285.8H498.5V285.2H499.5H500.5V283.7H501.4V282.8H502.4V282.4H503.3V282.1H504.3V282.0H505.2V281.3H506.0V281.0H506.9V280.7H507.8V280.3H508.7V279.8H509.5V277.8H510.4V276.6H511.4V275.8H512.4V275.1H513.4V274.8H514.4V274.0H515.4V272.1H516.4V271.8H517.4V271.2H518.3V271.0H519.3V270.3H520.2V270.1H521.2V269.1H522.2V267.1H523.1V266.4H524.1V264.0H525.1V263.7H526.1V263.4H527.1V262.3H528.1V261.7H529.1V259.4H530.1V259.2H531.1V258.8H532.1V257.7H533.1V256.5H534.1V255.8H535.1V255.1H536.1V254.7H537.0V253.4H537.9V252.7H538.8V252.2H539.8V251.6H540.7V251.0H541.6V250.4H542.5V248.9H543.4V248.3H544.4V247.5H545.4V246.9H546.3V245.5H547.3V244.4H548.3V243.9H549.3V243.3H550.3V242.2H551.3V240.7H552.2V239.8H553.2V238.5H554.2V237.6H555.2V236.6H556.2V235.8H557.2V233.8H558.2V232.5H559.2V232.3H560.2V231.2H561.2V230.0H562.2V228.2H563.1V227.1H564.1V225.8H565.1V225.2H566.1V223.7H567.1V223.4H568.1V223.0H569.1V221.6H570.1V219.7H571.1V218.9H572.1V218.5H573.1V217.5H574.1V216.6H575.1V215.6H576.1V214.8H577.0V214.3H578.0V213.6H578.9V212.9H579.8V212.4H580.8V212.0H581.7V211.5H582.6V210.5H583.5V209.8H584.5V208.6H585.4V207.6H586.3V206.6H587.3V205.7H588.2V204.8H589.2V203.9H590.2V202.8H591.2V201.9H592.2V201.2H593.2V200.5H594.2V199.9H595.2V199.2H596.2V198.1H597.2V196.8H598.2V196.0H599.2V195.4H600.2V195.2H601.1V194.4H602.1V193.8H603.0V193.1H603.9V192.4H604.9V191.7H605.8V190.7H606.7V189.8H607.6V189.1H608.6V188.2H609.5V187.4H610.4V186.7H611.4V186.0H612.3V185.3H613.3V184.7H614.3V183.8H615.3V182.8H616.3V181.9H617.3V181.2H618.3V180.7H619.3V179.6H620.3V178.7H621.3V177.9H622.3V176.9H623.3V176.1H624.3V175.4H625.3V174.6H626.2V173.3H627.2V172.2H628.1V171.0H629.1V169.8H630.1V168.7H631.0V167.7H632.0V167.0H632.9V166.0H633.9V164.9H634.8V164.1H635.7V163.3H636.7V162.3H637.6V161.0H638.5V160.0H639.4V158.8H640.4V157.9H641.3V156.9H642.2V155.8H643.2V154.8H644.1V153.8H645.1V152.9H646.1V152.0H647.1V151.1H648.1V150.2H649.1V149.3H650.1V148.3H651.1V147.3H652.1V146.4H653.1V145.5H654.1V144.5H655.1V143.6H656.1V142.6H657.0V141.8H658.0V141.1H658.9V140.3H659.8V139.6H660.8V138.8H661.7V138.1H662.6V137.3H663.5V136.6H664.5V135.8H665.4V135.1H666.3V134.3H667.3V133.6H668.2V132.8H669.2V132.1H670.2V131.4H671.2V130.7H672.2V129.9H673.2V129.2H674.2V128.5H675.2V127.8H676.2V127.1H677.2V126.4H678.2V125.6H679.2V124.9H680.2V124.2H681.2V123.5H682.2V122.7H683.1V122.0H684.1V121.3H685.1V120.5H686.1V119.8H687.0V119.1H688.0V118.3H689.0V117.6H690.0V116.8H691.0V116.1H691.9V115.4H692.9V114.6H693.9V113.9H694.8V113.3H695.8V112.6H696.7V112.0H697.7V111.3H698.6V110.7H699.6V110.0H700.5V109.4H701.5V108.7H702.4V108.1H703.4V107.4H704.3V106.8H705.2V106.2H706.2V105.5H707.1V104.9H708.1V104.3H709.0V103.6H710.0V103.0H710.9V102.4H711.8V101.7H712.8V101.1H713.7V100.5H714.7V99.8H715.6V99.2H716.6V98.7H717.5V98.2H718.5V97.7H719.4V97.2H720.4V96.7H721.4V96.2H722.3V95.7H723.3V95.2H724.2V94.7H725.2V94.2H726.2V93.7H727.1V93.2H728.1V92.7H729.0V92.2H730.0V91.7H731.0V91.1H732.0V90.6H733.0V90.0H734.0V89.5H735.0V88.9H736.0V88.4H737.0V87.8H738.0V87.2H739.0V86.7H740.0V86.1H741.0V85.6H742.0V85.0H743.0V84.5H744.0V83.9H745.0V83.4H746.0V82.8H747.0V82.1H748.0V81.4H749.0V80.8H750.0V80.1H751.0V79.4H752.0V78.7H753.0V78.0H754.0V77.3H755.0V76.7H756.0V76.0H757.0V75.3H758.0V74.7H759.0V74.0H760.0V73.4H761.0V72.8H762.0V72.2H763.0V71.5H764.0V70.9H765.0V70.3H766.0V69.7H767.0V69.0H768.0V68.4H769.0V67.8H770.0V67.2H771.0V66.5H772.0V65.9H773.0V65.3H774.0V64.7H775.0V64.0H776.0V63.4H777.0V62.8H778.0V62.1H779.0V61.5H780.0V60.9H781.0V60.3H782.0V59.6H783.0V59.0H783.9V58.4H784.9V57.9H785.8V57.3H786.8V56.7H787.7V56.1H788.6V55.5H789.6V55.0H790.5V54.4" stroke-width="4.9" stroke-linecap="square"/></g>
<path d="M247.0,654.0H248.0V652.6H249.0V649.0H250.0V643.4H251.0V642.7H252.0V642.1H253.0V638.0H254.0V636.8H255.0V630.0H256.0V628.1H257.0V627.7H258.0V626.8H259.0V626.3H260.0V624.0H261.0V622.8H262.0V622.6H263.0V620.8H264.0V620.2H265.0V619.2H266.0V616.5H267.0V616.0H268.0V615.8H269.0V615.4H270.0V615.2H271.0V615.1H272.0H273.0V614.6H274.0V614.3H275.0V614.0H276.0V609.2H277.0V607.7H278.0V607.5H279.0V605.1H280.0V604.0H281.0V603.8H282.0V603.2H283.0V602.8H284.0V602.3H285.0V600.8H286.0V600.4H287.0V598.0H288.0V591.9H289.0V590.6H290.0V589.0H291.0V588.7H292.0V588.3H293.0V587.4H294.0H295.0V586.8H296.0V586.0H297.0V579.7H298.0V574.1H299.0V572.6H300.0V572.0H301.0V571.0H302.0V570.5H303.0V570.3H304.0V570.1H305.0V569.3H306.0V568.9H307.0V568.4H308.0V566.9H309.0V566.2H310.0V566.0H311.0V565.4H312.0V565.3H313.0V564.4H314.0V563.6H315.0V562.8H316.0V561.0H317.0V558.6H318.0V556.8H319.0V553.0H320.0V552.2H321.0V550.4H322.0V548.5H323.0V546.7H324.0V546.0H325.0V545.6H326.0V545.4H327.0V545.0H328.0V543.7H329.0V543.3H330.0V543.0H331.0V541.6H332.0V539.5H333.0V538.1H334.0V537.5H335.0V535.0H336.0V533.9H337.0V533.4H338.0V532.7H339.0V532.0H340.0V531.0H341.0V530.5H342.0V529.0H343.0V528.5H344.0V527.8H345.0V527.0H346.0V525.6H347.0V523.6H348.0V522.4H349.0V521.3H350.0V520.2H351.0V519.3H352.0V518.0H352.9V516.3H353.9V514.7H354.9V513.1H355.8V511.5H356.8V509.9H357.7V509.5H358.7V508.3H359.6V506.3" stroke="#000" stroke-width="4.44"/><path d="M359.6,506.3H360.5V505.3H361.5V504.0H362.4V503.3H363.3V502.3H364.3V500.8H365.2V499.5H366.1V497.5H367.0V496.2H368.0V495.0H368.9V493.9H369.8V492.7H370.8V491.3H371.7V490.0H372.7V489.0H373.6V488.1H374.6V487.2H375.6V485.1H376.5V484.0H377.5V482.2H378.4V480.3H379.3V479.3H380.2V478.2H381.1V477.3H382.0V476.1H382.9V475.2H383.8V473.9H384.7V472.5H385.7V471.9H386.7V470.3H387.7V469.6H388.7V469.1H389.6V468.1H390.6V467.1H391.6V465.5H392.6V464.7H393.6V463.5H394.5V462.1H395.5V461.5H396.4V460.1H397.3V459.4H398.3V458.8H399.2V457.7H400.1V456.5H401.1V455.5H402.0V454.3H402.9V453.6H403.9V453.0H404.8V452.0H405.8V450.8H406.7V449.8H407.7V449.0H408.7V448.2H409.6V447.0H410.6V446.3H411.6V445.0H412.6V444.0H413.5V443.1H414.5V442.0H415.5V440.8H416.4V439.2H417.4V438.0H418.4V437.3H419.3V436.2H420.3V435.4H421.3V433.4H422.2V432.3H423.2V431.2H424.2V430.3H425.2V429.2H426.1V428.2H427.1V427.1H428.1V425.8H429.0V424.8H430.0V424.0H431.0V423.1H431.9V422.0H432.9V420.7H433.8V419.4H434.8V418.5H435.7V417.2H436.7V416.7H437.6V415.1H438.6V413.8H439.5V413.1H440.5V412.0H441.4V410.6H442.4V409.5H443.3V408.3H444.3V407.5H445.3V406.8H446.2V406.1H447.2V405.0H448.1V403.7H449.1V402.7H450.1V401.2H451.0V400.1H452.0V398.9H452.9V397.5H453.9V396.9H454.8V395.6H455.8V394.2H456.7V393.1H457.7V392.1H458.6V390.7H459.5V389.6H460.4V388.8H461.4V387.5H462.3V386.4H463.2V385.7H464.1V384.5H465.1V383.3H466.0V382.2H467.0V381.2H468.0V379.3H469.0V378.0H470.0V377.0H471.0V376.2H471.9V375.4H472.9V374.7H473.9V373.4H474.9V371.9H475.9V371.1H476.9V370.1H477.8V369.0H478.8V368.1H479.7V367.0H480.6V365.4H481.5V364.3H482.5V363.2H483.4V362.2H484.3V361.3H485.2V360.3H486.2V359.3H487.1V358.1H488.1V357.1H489.0V355.8H490.0V354.7H490.9V353.3H491.9V352.2H492.9V351.0H493.8V349.9H494.8V348.9H495.7V347.9H496.7V347.0H497.6V345.9H498.6V344.8H499.6V343.9H500.5V342.9H501.5V341.9H502.4V340.6H503.4V339.6H504.3V338.7H505.2V337.7H506.2V336.7H507.1V335.7H508.1V334.5H509.1V333.5H510.0V332.5H511.0V331.6H512.0V330.5H513.0V329.3H514.0V328.2H515.0V327.2H516.0V325.9H517.0V325.0H518.0V323.8H519.0V322.7H520.0V321.5H521.0V320.5H522.0V319.5H523.0V318.4H524.0V317.3H525.0V316.3H526.0V315.4H527.0V314.4H528.0V313.4H529.0V312.4H530.0V311.3H531.0V310.3H532.0V309.3H533.0V308.3H533.9V307.3H534.9V306.3H535.8V305.3H536.8V304.4H537.7V303.4H538.6V302.4H539.6V301.4H540.5V300.4H541.5V299.4H542.4V298.5H543.4V297.5H544.4V296.4H545.4V295.3H546.3V294.2H547.3V293.1H548.3V292.0H549.2V290.9H550.2V289.7H551.2V288.6H552.2V287.5H553.1V286.4H554.1V285.3H555.1V284.2H556.1V283.1H557.1V282.0H558.0V280.9H559.0V279.8H560.0V278.7H561.0V277.7H562.0V276.6H563.0V275.5H563.9V274.4H564.9V273.3H565.9V272.2H566.9V271.1H567.9V270.0H568.8V268.9H569.8V267.8H570.8V266.7H571.8V265.6H572.8V264.5H573.8V263.4H574.7V262.3H575.7V261.2H576.7V260.1H577.7V259.0H578.6V257.9H579.6V256.8H580.6V255.7H581.5V254.6H582.5V253.6H583.4V252.5H584.4V251.4H585.4V250.3H586.3V249.2H587.3V248.1H588.3V247.0H589.2V246.0H590.2V244.9H591.1V243.8H592.1V242.8H593.0V241.7H594.0V240.7H594.9V239.6H595.9V238.5H596.8V237.5H597.8V236.4H598.7V235.4H599.7V234.4H600.6V233.4H601.6V232.4H602.5V231.3H603.5V230.3H604.4V229.3H605.4V228.3H606.3V227.3H607.3V226.2H608.3V225.1H609.3V224.0H610.3V222.9H611.3V221.8H612.3V220.8H613.3V219.7H614.3V218.6H615.3V217.5H616.3V216.4H617.3V215.3H618.3V214.2H619.3V213.1H620.3V212.1H621.3V211.0H622.3V209.9H623.3V208.8H624.2V207.8H625.2V206.7H626.2V205.6H627.2V204.5H628.2V203.5H629.2V202.4H630.2V201.4H631.2V200.4H632.1V199.3H633.1V198.3H634.1V197.3H635.1V196.3H636.1V195.3H637.1V194.3H638.0V193.2H639.0V192.2H640.0V191.2H641.0V190.2H642.0V189.2H643.0V188.1H644.0V187.1H645.0V186.1H646.0V185.1H647.0V184.1H648.0V183.1H649.0V182.1H650.0V181.0H651.0V180.0H652.0V179.0H653.0V178.0H653.9V177.1H654.9V176.1H655.8V175.2H656.8V174.2H657.7V173.2H658.6V172.3H659.6V171.3H660.5V170.4H661.5V169.4H662.4V168.5H663.4V167.5H664.4V166.4H665.4V165.4H666.4V164.3H667.4V163.3H668.4V162.2H669.4V161.2H670.4V160.1H671.4V159.0H672.4V158.0H673.4V156.9H674.4V155.9H675.4V154.8H676.3V153.8H677.3V152.9H678.2V151.9H679.1V151.0H680.1V150.0H681.0V149.1H681.9V148.1H682.8V147.2H683.8V146.2H684.7V145.3H685.6V144.3H686.6V143.4H687.5V142.4H688.5V141.5H689.5V140.5H690.5V139.6H691.5V138.7H692.5V137.7H693.5V136.8H694.5V135.9H695.5V134.9H696.5V134.0H697.5V133.1H698.5V132.1H699.5V131.2H700.4V130.4H701.4V129.6H702.3V128.7H703.3V127.9H704.2V127.1H705.2V126.3H706.1V125.4H707.1V124.6H708.0V123.8H709.0V123.0H709.9V122.1H710.9V121.3H711.8V120.5H712.8V119.7H713.7V118.8H714.7V118.0H715.6V117.2H716.6V116.4H717.6V115.5H718.6V114.7H719.6V113.9H720.6V113.1H721.6V112.2H722.5V111.4H723.5V110.6H724.5V109.7H725.5V108.9H726.5V108.1H727.5V107.3H728.5V106.4H729.5V105.6H730.5V104.8H731.4V104.0H732.4V103.2H733.4V102.5H734.3V101.7H735.3V100.9H736.3V100.1H737.2V99.3H738.2V98.5H739.2V97.7H740.1V96.9H741.1V96.2H742.1V95.4H743.0V94.6H744.0V93.8H744.9V93.0H745.9V92.3H746.8V91.5H747.8V90.8H748.7V90.0H749.7V89.3H750.6V88.5H751.5V87.7H752.5V87.0H753.4V86.2H754.4V85.5H755.3V84.7H756.3V84.0H757.2V83.2H758.1V82.5H759.0V81.8H759.9V81.0H760.8V80.3H761.7V79.6H762.6V78.9H763.5V78.2H764.4V77.5H765.3V76.8H766.2V76.1H767.1V75.4H768.0V74.7H768.9V74.0H769.8V73.3H770.7V72.5H771.6V71.8H772.5V71.0H773.5V70.3H774.4V69.6H775.3V68.8H776.2V68.1H777.1V67.3H778.0V66.6H778.9V65.8H779.8V65.0H780.7V64.3H781.6V63.5H782.5V62.8H783.4V62.0H784.3V61.1H785.3V60.2H786.2V59.3H787.1V58.3H788.0V57.4H789.0V56.5H789.9V55.6H790.8V54.4" stroke="#000" stroke-width="5.0" stroke-linecap="square"/>
</g>
<path d="M295.6,649.5 v5 M543.3,649.5 v5 M791.0,649.5 v5 M134.5,635.5 h-5.5 M134.5,490.2 h-5.5 M134.5,344.9 h-5.5 M134.5,199.6 h-5.5 M134.5,54.3 h-5.5" stroke="#000" stroke-width="1.1" fill="none"/>
<path d="M134.5,649.6 h-3 M134.5,642.1 h-3 M134.5,591.8 h-3 M134.5,566.2 h-3 M134.5,548.0 h-3 M134.5,533.9 h-3 M134.5,522.4 h-3 M134.5,512.7 h-3 M134.5,504.3 h-3 M134.5,496.8 h-3 M134.5,446.5 h-3 M134.5,420.9 h-3 M134.5,402.7 h-3 M134.5,388.6 h-3 M134.5,377.1 h-3 M134.5,367.4 h-3 M134.5,359.0 h-3 M134.5,351.5 h-3 M134.5,301.2 h-3 M134.5,275.6 h-3 M134.5,257.4 h-3 M134.5,243.3 h-3 M134.5,231.8 h-3 M134.5,222.1 h-3 M134.5,213.7 h-3 M134.5,206.2 h-3 M134.5,155.9 h-3 M134.5,130.3 h-3 M134.5,112.1 h-3 M134.5,98.0 h-3 M134.5,86.5 h-3 M134.5,76.8 h-3 M134.5,68.4 h-3 M134.5,60.9 h-3 M134.5,10.6 h-3" stroke="#000" stroke-width="1.05" fill="none"/>
<path d="M134.5,9.95 V650.05 M133.95,649.5 H791.4 M133.95,10.5 H791.4" fill="none" stroke="#000" stroke-width="1.1"/>
<path d="M790.75,9.95 V654.5" fill="none" stroke="#000" stroke-width="1.3"/>
<text x="67.4" y="66.3" font-size="32.6" textLength="40" lengthAdjust="spacingAndGlyphs">10</text><text x="108.4" y="53.9" font-size="23.2" textLength="14.2" lengthAdjust="spacingAndGlyphs">0</text>
<text x="48.0" y="211.6" font-size="32.6" textLength="40" lengthAdjust="spacingAndGlyphs">10</text><path d="M92.2,192.6 h14.6" stroke="#000" stroke-width="1.9" fill="none"/><text x="108.5" y="199.2" font-size="23.2" textLength="14.2" lengthAdjust="spacingAndGlyphs">1</text>
<text x="48.0" y="356.9" font-size="32.6" textLength="40" lengthAdjust="spacingAndGlyphs">10</text><path d="M92.2,337.9 h14.6" stroke="#000" stroke-width="1.9" fill="none"/><text x="108.5" y="344.5" font-size="23.2" textLength="14.2" lengthAdjust="spacingAndGlyphs">2</text>
<text x="48.0" y="502.2" font-size="32.6" textLength="40" lengthAdjust="spacingAndGlyphs">10</text><path d="M92.2,483.2 h14.6" stroke="#000" stroke-width="1.9" fill="none"/><text x="108.5" y="489.8" font-size="23.2" textLength="14.2" lengthAdjust="spacingAndGlyphs">3</text>
<text x="48.0" y="647.5" font-size="32.6" textLength="40" lengthAdjust="spacingAndGlyphs">10</text><path d="M92.2,628.5 h14.6" stroke="#000" stroke-width="1.9" fill="none"/><text x="108.5" y="635.1" font-size="23.2" textLength="14.2" lengthAdjust="spacingAndGlyphs">4</text>
<text x="258.4" y="683.9" font-size="32.6" textLength="40" lengthAdjust="spacingAndGlyphs">10</text><path d="M300.8,664.9 h14.6" stroke="#000" stroke-width="1.9" fill="none"/><text x="317.1" y="671.5" font-size="23.2" textLength="14.2" lengthAdjust="spacingAndGlyphs">4</text>
<text x="506.1" y="683.9" font-size="32.6" textLength="40" lengthAdjust="spacingAndGlyphs">10</text><path d="M548.5,664.9 h14.6" stroke="#000" stroke-width="1.9" fill="none"/><text x="564.8" y="671.5" font-size="23.2" textLength="14.2" lengthAdjust="spacingAndGlyphs">2</text>
<text x="762.5" y="683.9" font-size="32.6" textLength="40" lengthAdjust="spacingAndGlyphs">10</text><text x="803.9" y="671.5" font-size="23.2" textLength="14.2" lengthAdjust="spacingAndGlyphs">0</text>
<text transform="translate(35.4,361.3) rotate(-90)" font-size="32.6" textLength="63" lengthAdjust="spacingAndGlyphs">CDF</text>
<text x="422.4" y="719.9" font-size="32.6" font-style="italic" textLength="13.2" lengthAdjust="spacingAndGlyphs">r</text>
<text x="436.2" y="725.0" font-size="23.2" textLength="13.5" lengthAdjust="spacingAndGlyphs">p</text>
<path d="M452.0,723.4 L460.3,697.2" stroke="#000" stroke-width="2.7" fill="none"/>
<text x="461.2" y="719.9" font-size="32.6" font-style="italic" textLength="22.8" lengthAdjust="spacingAndGlyphs">R</text>
<text x="484.4" y="725.5" font-size="23.2" textLength="17" lengthAdjust="spacingAndGlyphs">H</text>
<rect x="494.5" y="380.6" width="283" height="255" rx="4" ry="4" fill="#fff" fill-opacity="0.8" stroke="#cccccc" stroke-width="1.4"/>
<path d="M504.6,411.0 L557.8,411.0 L557.8,392.9 L504.6,392.9 Z" fill="none" stroke="#000" stroke-width="4.44" stroke-dasharray="28.2 7 4.4 7"/>
<path d="M504.6,453.6 L557.8,453.6 L557.8,435.5 L504.6,435.5 Z" fill="none" stroke="#ff7f0e" stroke-opacity="0.5" stroke-width="4.4"/>
<path d="M504.6,496.2 L557.8,496.2 L557.8,478.1 L504.6,478.1 Z" fill="none" stroke="#2ca02c" stroke-opacity="0.5" stroke-width="4.4"/>
<path d="M504.6,538.8 L557.8,538.8 L557.8,520.7 L504.6,520.7 Z" fill="none" stroke="#d62728" stroke-opacity="0.5" stroke-width="4.4"/>
<path d="M504.6,581.4 L557.8,581.4 L557.8,563.2 L504.6,563.2 Z" fill="none" stroke="#9467bd" stroke-opacity="0.5" stroke-width="4.4"/>
<path d="M504.6,620.1 L557.8,620.1 L557.8,602.0 L504.6,602.0 Z" fill="none" stroke="#000" stroke-width="4.4"/>
<text x="578.4" y="410.4" font-size="28.0" textLength="116" lengthAdjust="spacingAndGlyphs">coplanar</text>
<text x="578.0" y="619.4" font-size="28.0" textLength="96" lengthAdjust="spacingAndGlyphs">fiducial</text>
<text x="579.6" y="452.8" font-size="28.0" font-style="italic" textLength="9.5" lengthAdjust="spacingAndGlyphs">t</text>
<path d="M596.5,441.2 h17.2 M596.5,447.8 h17.2" stroke="#000" stroke-width="2.1" fill="none"/>
<text x="621.6" y="452.8" font-size="28.0" textLength="34.6" lengthAdjust="spacingAndGlyphs">10</text>
<text x="655.6" y="442.8" font-size="19.6" textLength="27.4" lengthAdjust="spacingAndGlyphs">2.0</text>
<path d="M689.3,437.2 h11.8" stroke="#000" stroke-width="1.5" fill="none"/>
<text x="707.4" y="442.8" font-size="19.6" textLength="29.0" lengthAdjust="spacingAndGlyphs">3.5</text>
<text x="737.6" y="452.8" font-size="28.0" font-style="italic" textLength="18.6" lengthAdjust="spacingAndGlyphs">P</text>
<text x="754.2" y="457.0" font-size="19.6" textLength="11.4" lengthAdjust="spacingAndGlyphs">1</text>
<text x="579.6" y="495.3" font-size="28.0" font-style="italic" textLength="9.5" lengthAdjust="spacingAndGlyphs">t</text>
<path d="M596.5,483.7 h17.2 M596.5,490.3 h17.2" stroke="#000" stroke-width="2.1" fill="none"/>
<text x="621.6" y="495.3" font-size="28.0" textLength="34.6" lengthAdjust="spacingAndGlyphs">10</text>
<text x="655.6" y="485.3" font-size="19.6" textLength="27.4" lengthAdjust="spacingAndGlyphs">3.5</text>
<path d="M689.3,479.7 h11.8" stroke="#000" stroke-width="1.5" fill="none"/>
<text x="707.4" y="485.3" font-size="19.6" textLength="29.0" lengthAdjust="spacingAndGlyphs">4.0</text>
<text x="737.6" y="495.3" font-size="28.0" font-style="italic" textLength="18.6" lengthAdjust="spacingAndGlyphs">P</text>
<text x="754.2" y="499.5" font-size="19.6" textLength="11.4" lengthAdjust="spacingAndGlyphs">1</text>
<text x="579.6" y="537.8" font-size="28.0" font-style="italic" textLength="9.5" lengthAdjust="spacingAndGlyphs">t</text>
<path d="M596.5,526.1 h17.2 M596.5,532.8 h17.2" stroke="#000" stroke-width="2.1" fill="none"/>
<text x="621.6" y="537.8" font-size="28.0" textLength="34.6" lengthAdjust="spacingAndGlyphs">10</text>
<text x="655.6" y="527.8" font-size="19.6" textLength="27.4" lengthAdjust="spacingAndGlyphs">4.0</text>
<path d="M689.3,522.1 h11.8" stroke="#000" stroke-width="1.5" fill="none"/>
<text x="707.4" y="527.8" font-size="19.6" textLength="29.0" lengthAdjust="spacingAndGlyphs">4.5</text>
<text x="737.6" y="537.8" font-size="28.0" font-style="italic" textLength="18.6" lengthAdjust="spacingAndGlyphs">P</text>
<text x="754.2" y="542.0" font-size="19.6" textLength="11.4" lengthAdjust="spacingAndGlyphs">1</text>
<text x="579.6" y="580.2" font-size="28.0" font-style="italic" textLength="9.5" lengthAdjust="spacingAndGlyphs">t</text>
<path d="M596.5,568.6 h17.2 M596.5,575.2 h17.2" stroke="#000" stroke-width="2.1" fill="none"/>
<text x="621.6" y="580.2" font-size="28.0" textLength="34.6" lengthAdjust="spacingAndGlyphs">10</text>
<text x="655.6" y="570.2" font-size="19.6" textLength="27.4" lengthAdjust="spacingAndGlyphs">4.5</text>
<path d="M689.3,564.6 h11.8" stroke="#000" stroke-width="1.5" fill="none"/>
<text x="707.4" y="570.2" font-size="19.6" textLength="29.0" lengthAdjust="spacingAndGlyphs">5.0</text>
<text x="737.6" y="580.2" font-size="28.0" font-style="italic" textLength="18.6" lengthAdjust="spacingAndGlyphs">P</text>
<text x="754.2" y="584.4" font-size="19.6" textLength="11.4" lengthAdjust="spacingAndGlyphs">1</text>
</svg>
</body></html>
